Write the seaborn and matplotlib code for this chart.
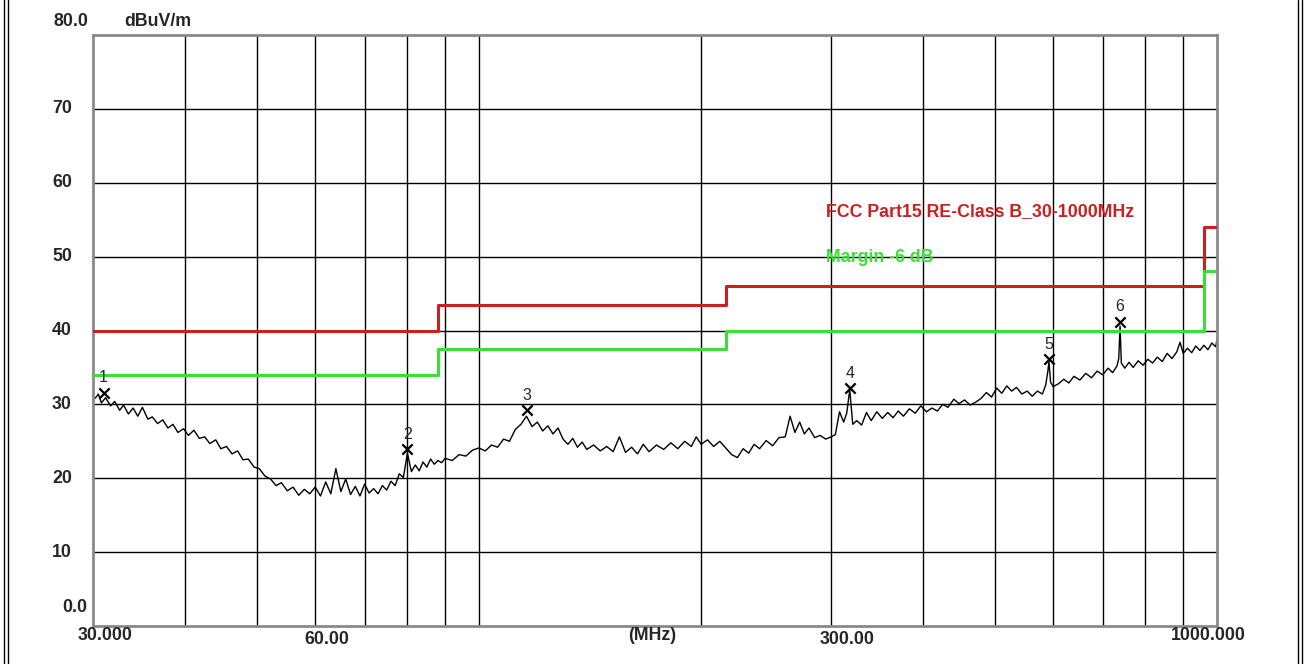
import matplotlib
matplotlib.use("Agg")
import matplotlib.pyplot as plt
from matplotlib.lines import Line2D
from matplotlib.ticker import NullLocator
import pandas as pd
import seaborn as sns

trace_freq = [
    30.0, 30.3, 30.5, 30.8, 31.2, 31.7, 32.1, 32.6, 33.0, 33.5,
    34.0, 34.5, 35.0, 35.6, 36.1, 36.7, 37.3, 37.9, 38.5, 39.1,
    39.8, 40.4, 41.1, 41.8, 42.5, 43.2, 44.0, 44.7, 45.5, 46.3,
    47.1, 47.9, 48.7, 49.6, 50.4, 51.3, 52.2, 53.1, 54.0, 55.0,
    56.0, 57.0, 58.0, 59.0, 60.0,
    61, 62, 63, 64, 65, 66, 67, 68, 69, 70,
    71, 72, 73, 74, 75, 76, 77, 78, 79, 80,
    81, 82, 83, 84, 85, 86, 87, 88, 89, 90,
    92, 94, 96, 98, 100,
    102, 104, 106, 108, 110, 112, 114, 116, 118, 120,
    122, 124, 126, 128, 130, 132, 134, 136, 138, 140,
    143, 146, 149, 152, 155, 158, 161, 164, 167, 170,
    174, 178, 182, 186, 190, 194, 197, 200,
    204, 208, 212, 216, 220, 224, 228, 232, 236, 240,
    245, 250, 255, 260, 264, 268, 272, 276, 280, 285,
    290, 295, 300,
    304, 308, 312, 315, 318, 321, 325, 330, 335, 340,
    346, 352, 358, 364, 370, 376, 383, 390, 397, 404,
    411, 418, 425, 432, 440, 447, 455, 463, 471, 479,
    487, 495, 503, 511, 519, 527, 535, 544, 553, 562,
    571, 580, 586, 590, 592, 595, 600,
    610, 620, 630, 640, 652, 664, 676, 688, 700, 712,
    722, 732, 736, 739, 742, 750, 760, 770, 782, 794,
    806, 818, 830, 843, 856, 869, 882, 891, 900, 912,
    924, 936, 948, 960, 972, 984, 996, 1000,
]
trace_level = [
    30.6, 31.0, 31.4, 30.2, 30.9, 29.8, 30.4, 29.2, 29.9, 28.7,
    29.5, 28.4, 29.6, 28.0, 28.3, 27.4, 27.9, 26.8, 27.3, 26.2,
    26.7, 25.8, 26.5, 25.4, 25.6, 24.7, 25.2, 24.0, 24.3, 23.3,
    23.7, 22.5, 22.6, 21.5, 21.3, 20.3, 19.9, 19.0, 19.4, 18.3,
    18.8, 17.7, 18.5, 17.9, 18.8,
    17.6, 19.5, 17.9, 21.3, 18.2, 19.9, 17.8, 18.9, 17.6, 19.2,
    18.0, 18.6, 17.9, 19.0, 18.4, 19.6, 19.0, 20.6, 20.1, 23.4,
    20.9, 21.8, 21.0, 22.2, 21.5, 22.6, 21.9, 22.4, 22.1, 22.7,
    22.4, 23.2, 23.0, 23.8, 24.1,
    23.7, 24.5, 24.2, 25.3, 25.0, 26.6, 27.3, 28.4, 27.0, 27.6,
    26.4, 27.1, 26.0, 26.8, 25.3, 24.6, 25.4, 24.2, 24.9, 23.9,
    24.5, 23.7, 24.3, 23.6, 25.6, 23.5, 24.2, 23.3, 24.6, 23.6,
    24.5, 23.9, 24.8, 24.0, 25.0, 24.3, 25.6, 24.6,
    25.2, 24.3, 25.0, 24.1, 23.2, 22.8, 24.0, 23.4, 24.6, 24.0,
    25.1, 24.4, 25.5, 25.6, 28.4, 26.2, 27.6, 26.0, 26.8, 25.5,
    25.8, 25.3, 25.6,
    25.9, 29.0, 27.6, 28.8, 32.0, 27.3, 27.8, 27.2, 28.9, 27.8,
    29.0, 28.1, 28.9, 28.2, 29.1, 28.4, 29.4, 28.8, 29.8, 29.0,
    29.5, 29.1, 30.0, 29.6, 30.7, 30.1, 30.6, 29.9, 30.3, 30.8,
    31.6, 31.0, 32.2, 31.5, 32.5, 31.8, 32.3, 31.4, 31.8, 31.1,
    31.8, 31.4, 32.6, 34.5, 35.8, 33.0, 32.4,
    32.8, 33.4, 32.9, 33.8, 33.3, 34.2, 33.6, 34.5, 34.0, 34.9,
    34.3, 35.2, 36.2, 40.6, 35.6, 34.9, 35.7, 35.0, 35.9, 35.3,
    36.1, 35.6, 36.4, 35.8, 36.9, 36.2, 37.1, 38.4, 36.9, 37.6,
    37.0, 37.9, 37.3, 38.0, 37.4, 38.3, 37.8, 38.8,
]

# FCC Part15 class B limit and -6 dB margin (step starts)
limit_freq = [30, 88, 216, 960, 1000]
limit_level = [40.0, 43.5, 46.0, 54.0, 54.0]
margin_level = [34.0, 37.5, 40.0, 48.0, 48.0]

# peak markers
marker_freq = [31.0, 80.0, 116.2, 318.0, 592.0, 739.0]
marker_level = [31.6, 23.9, 29.2, 32.2, 36.1, 41.2]
marker_label = ["1", "2", "3", "4", "5", "6"]

grid_freq = [40, 50, 60, 70, 80, 90, 100, 200, 300, 400, 500, 600, 700, 800, 900]
grid_level = [10, 20, 30, 40, 50, 60, 70]

RED = "#cc1f1f"
GREEN = "#38e038"

sns.set_style("white")
plt.rcParams["font.family"] = ["Liberation Sans", "DejaVu Sans"]

W, H = 1304, 664
fig = plt.figure(figsize=(W / 100, H / 100), dpi=100)
ax = fig.add_axes([93 / W, 1 - 626 / H, 1124 / W, 591 / H])

ax.set_xscale("log")
ax.set_xlim(30, 1000)
ax.set_ylim(0, 80)
ax.set_xticks(grid_freq)
ax.xaxis.set_minor_locator(NullLocator())
ax.set_yticks(grid_level)
ax.tick_params(length=0, labelbottom=False, labelleft=False)
ax.grid(True, color="black", lw=1.0)
ax.set_axisbelow(True)
for sp in ax.spines.values():
    sp.set_color("#8a8a8a")
    sp.set_linewidth(2)

df = pd.DataFrame({"freq": trace_freq, "level": trace_level})
sns.lineplot(data=df, x="freq", y="level", ax=ax, color="black", lw=1.0,
             estimator=None, sort=False)
ax.set_xlabel("")
ax.set_ylabel("")

ax.step(limit_freq, limit_level, where="post", color=RED, lw=2.2, zorder=3)
ax.step(limit_freq, margin_level, where="post", color=GREEN, lw=2.2, zorder=3)

ax.scatter(marker_freq, marker_level, marker="x", s=55, color="black",
           linewidths=1.6, zorder=5)
for f, l, t in zip(marker_freq, marker_level, marker_label):
    ax.annotate(t, (f, l), xytext=(0, 15), textcoords="offset pixels",
                ha="center", va="center", fontsize=11.5)

ax.text(295, 56.1, "FCC Part15 RE-Class B_30-1000MHz", color=RED,
        fontsize=12.8, fontweight="bold", va="center", ha="left")
ax.text(295, 49.9, "Margin -6 dB", color=GREEN,
        fontsize=12.8, fontweight="bold", va="center", ha="left")

# y axis labels
lab = dict(fontsize=12.8, fontweight="bold", va="center")
for v in grid_level:
    ax.annotate(str(v), (0, v), xycoords=("axes fraction", "data"),
                xytext=(-41, 0), textcoords="offset pixels", ha="left", **lab)
ax.annotate("80.0", (0, 80), xycoords=("axes fraction", "data"),
            xytext=(-5, 14), textcoords="offset pixels", ha="right", **lab)
ax.annotate("0.0", (0, 0), xycoords=("axes fraction", "data"),
            xytext=(-6, 18), textcoords="offset pixels", ha="right", **lab)
ax.annotate("dBuV/m", (0, 80), xycoords=("axes fraction", "data"),
            xytext=(31, 14), textcoords="offset pixels", ha="left", **lab)

# x axis labels
xl = dict(xycoords=("data", "axes fraction"), textcoords="offset pixels",
          ha="center", **lab)
ax.annotate("30.000", (30, 0), xytext=(12, -10), **xl)
ax.annotate("60.00", (60, 0), xytext=(12, -14), **xl)
ax.annotate("300.00", (300, 0), xytext=(16, -14), **xl)
ax.annotate("1000.000", (1000, 0), xytext=(-9, -10), **xl)
ax.annotate("(MHz)", (0.4973, 0), xycoords="axes fraction", xytext=(0, -10),
            textcoords="offset pixels", ha="center", **lab)

# window frame lines
for px in [3.5, 7.5, 1297.5, 1301.5]:
    fig.add_artist(Line2D([px / W, px / W], [0, 1], transform=fig.transFigure,
                          color="black", lw=1.0))

fig.savefig("out.png", dpi=100)
